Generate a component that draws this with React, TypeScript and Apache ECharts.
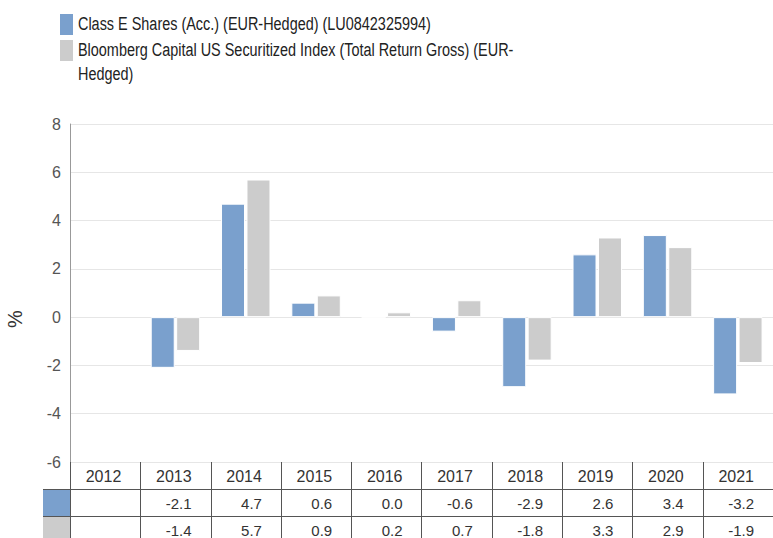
import React, { useEffect, useRef } from "react";
import * as echarts from "echarts";

const categories = ["2012", "2013", "2014", "2015", "2016", "2017", "2018", "2019", "2020", "2021"];
const seriesNames = [
  "Class E Shares (Acc.) (EUR-Hedged) (LU0842325994)",
  "Bloomberg Capital US Securitized Index (Total Return Gross) (EUR-Hedged)",
];
const fundValues: (number | null)[] = [null, -2.1, 4.7, 0.6, 0.0, -0.6, -2.9, 2.6, 3.4, -3.2];
const indexValues: (number | null)[] = [null, -1.4, 5.7, 0.9, 0.2, 0.7, -1.8, 3.3, 2.9, -1.9];
const yMin = -6;
const yMax = 8;
const yInterval = 2;
const axisName = "%";

const colors = ["#7aa0cd", "#cccccc"];
const FONT = "'Liberation Sans', Arial, sans-serif";

export default function App() {
  const ref = useRef<HTMLDivElement>(null);

  useEffect(() => {
    if (!ref.current) return;
    const chart = echarts.init(ref.current, null, { renderer: "svg" });
    const allValues = [fundValues, indexValues];
    chart.setOption({
      animation: false,
      textStyle: { fontFamily: FONT },
      grid: { left: 70, right: -3, top: 124, bottom: 76, containLabel: false },
      xAxis: {
        type: "category",
        data: categories,
        axisLine: { show: false },
        axisTick: { show: false },
        axisLabel: { show: false },
        splitLine: { show: false },
      },
      yAxis: {
        type: "value",
        min: yMin,
        max: yMax,
        interval: yInterval,
        axisLine: { show: true, lineStyle: { color: "#999999", width: 1 } },
        axisTick: { show: false },
        axisLabel: { fontSize: 16, color: "#555555", margin: 9, fontFamily: FONT },
        splitLine: { show: true, lineStyle: { color: "#e6e6e6", width: 1 } },
      },
      series: allValues.map((vals, si) => ({
        type: "bar",
        name: seriesNames[si],
        data: vals,
        barWidth: 24,
        barGap: "6%",
        itemStyle: { color: colors[si], borderColor: "#ffffff", borderWidth: 1, opacity: 1 },
      })),
    });

    const y0 = chart.convertToPixel({ yAxisIndex: 0 }, yMin) as number;
    const c0 = chart.convertToPixel({ xAxisIndex: 0 }, categories[0]) as number;
    const c1 = chart.convertToPixel({ xAxisIndex: 0 }, categories[1]) as number;
    const band = c1 - c0;
    const left = c0 - band / 2;
    const rowH = 27;
    const tableBottom = y0 + rowH * 3 + 5;
    const lineColor = "#555555";
    const els: any[] = [];

    // legend cells in table
    allValues.forEach((_, si) => {
      els.push({
        type: "rect",
        shape: { x: 43, y: y0 + rowH * (si + 1), width: left - 43, height: rowH },
        style: { fill: colors[si] },
        z: 10,
      });
    });
    // horizontal lines
    for (let r = 1; r <= 2; r++) {
      const yy = Math.round(y0 + rowH * r) + 0.5;
      els.push({
        type: "line",
        shape: { x1: 43, y1: yy, x2: 800, y2: yy },
        style: { stroke: lineColor, lineWidth: 1 },
        z: 11,
      });
    }
    // vertical lines
    for (let i = 0; i <= categories.length; i++) {
      const xx = Math.round(left + i * band) + 0.5;
      els.push({
        type: "line",
        shape: { x1: xx, y1: Math.round(y0), x2: xx, y2: tableBottom },
        style: { stroke: lineColor, lineWidth: 1 },
        z: 11,
      });
    }
    // texts
    categories.forEach((cat, i) => {
      const xr = left + (i + 1) * band - 19;
      els.push({
        type: "text",
        x: xr,
        y: y0 + rowH / 2 + 1,
        style: { text: cat, fontSize: 16, fontFamily: FONT, fill: "#333333", align: "right", verticalAlign: "middle" },
        z: 12,
      });
      allValues.forEach((vals, si) => {
        const v = vals[i];
        if (v === null || v === undefined) return;
        els.push({
          type: "text",
          x: xr,
          y: y0 + rowH * (si + 1) + rowH / 2 + 1,
          style: { text: v.toFixed(1), fontSize: 15, fontFamily: FONT, fill: "#333333", align: "right", verticalAlign: "middle" },
          z: 12,
        });
      });
    });

    // top legend
    const legendTops = [14, 40];
    seriesNames.forEach((name, si) => {
      els.push({
        type: "rect",
        shape: { x: 60, y: legendTops[si], width: 13, height: 21 },
        style: { fill: colors[si] },
      });
      const display = si === 1 ? name.replace("(EUR-Hedged)", "(EUR-\nHedged)") : name;
      els.push({
        type: "text",
        x: 78,
        y: legendTops[si] - 2,
        scaleX: 0.76,
        style: {
          text: display,
          fontSize: 19,
          lineHeight: 24,
          fontFamily: FONT,
          fill: "#222222",
          align: "left",
          verticalAlign: "top",
        },
      });
    });

    // y axis name
    els.push({
      type: "text",
      x: 15,
      y: 319,
      rotation: Math.PI / 2,
      style: { text: axisName, fontSize: 20, fontFamily: FONT, fill: "#333333", align: "center", verticalAlign: "middle" },
    });

    chart.setOption({ graphic: els });

    return () => chart.dispose();
  }, []);

  return (
    <div
      ref={ref}
      style={{ position: "fixed", left: 0, top: 0, width: 773, height: 538, background: "#ffffff" }}
    />
  );
}
